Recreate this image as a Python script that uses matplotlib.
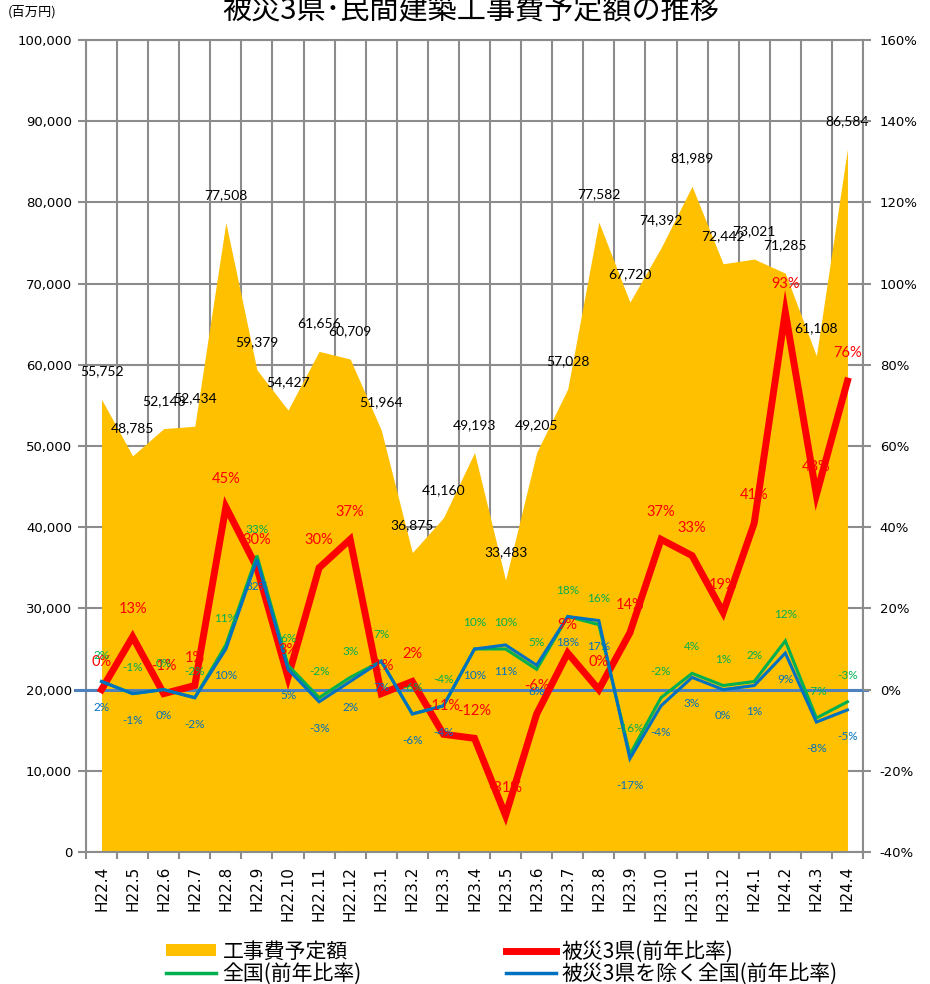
import matplotlib
matplotlib.use('Agg')
import matplotlib.pyplot as plt
import matplotlib.ticker as mticker
from matplotlib.lines import Line2D
from matplotlib.patches import Patch

# ---------------- data ----------------
months = ['H22.4', 'H22.5', 'H22.6', 'H22.7', 'H22.8', 'H22.9', 'H22.10', 'H22.11',
          'H22.12', 'H23.1', 'H23.2', 'H23.3', 'H23.4', 'H23.5', 'H23.6', 'H23.7',
          'H23.8', 'H23.9', 'H23.10', 'H23.11', 'H23.12', 'H24.1', 'H24.2', 'H24.3',
          'H24.4']
amount = [55752, 48785, 52143, 52434, 77508, 59379, 54427, 61656, 60709, 51964,
          36875, 41160, 49193, 33483, 49205, 57028, 77582, 67720, 74392, 81989,
          72442, 73021, 71285, 61108, 86584]
hisai3 = [0, 13, -1, 1, 45, 30, 3, 30, 37, -1, 2, -11, -12, -31, -6, 9, 0, 14,
          37, 33, 19, 41, 93, 48, 76]
zenkoku = [2, -1, 0, -2, 11, 33, 6, -2, 3, 7, -6, -4, 10, 10, 5, 18, 16, -16,
           -2, 4, 1, 2, 12, -7, -3]
excl3 = [2, -1, 0, -2, 10, 32, 5, -3, 2, 7, -6, -4, 10, 11, 6, 18, 17, -17,
         -4, 3, 0, 1, 9, -8, -5]

title = '被災3県･民間建築工事費予定額の推移'
unit_label = '(百万円)'
legend_labels = ['工事費予定額', '全国(前年比率)', '被災3県(前年比率)', '被災3県を除く全国(前年比率)']

# ---------------- style ----------------
CJK = ['Noto Sans CJK JP', 'DejaVu Sans']
ORANGE = '#FFC000'
RED = '#FF0000'
GREEN = '#00B050'
BLUE = '#0070C0'
ZERO = '#4F81BD'
GRID = '#8C8C8C'

fig = plt.figure(figsize=(9.3, 9.84), dpi=100)
ax = fig.add_axes([86 / 930, 1 - 852 / 984, 777 / 930, 812 / 984])

x = list(range(len(months)))

# area
ax.fill_between(x, amount, 0, color=ORANGE, linewidth=0, zorder=2)
ax.set_xlim(-0.5, len(months) - 0.5)
ax.set_ylim(0, 100000)
ax.yaxis.set_major_locator(mticker.MultipleLocator(10000))
ax.yaxis.set_major_formatter(mticker.FuncFormatter(lambda v, p: f'{int(v):,}'))
ax.set_xticks(x)
ax.set_xticklabels(months, rotation=90, fontsize=11, family='DejaVu Sans')
ax.set_xticks([i - 0.5 for i in range(len(months) + 1)], minor=True)
ax.tick_params(axis='x', which='major', length=0, pad=10)
ax.tick_params(axis='x', which='minor', length=5, width=1.5, color=GRID)
ax.tick_params(axis='y', length=6, width=1.5, color=GRID, pad=4, labelsize=9.5)
ax.grid(True, which='minor', axis='x', color=GRID, lw=1.5, zorder=0)
ax.grid(True, which='major', axis='y', color=GRID, lw=1.5, zorder=0)
ax.grid(False, which='major', axis='x')
ax.set_axisbelow(True)
for s in ['left', 'right', 'bottom', 'top']:
    ax.spines[s].set_color(GRID)
    ax.spines[s].set_linewidth(1.5)

for xi, v in zip(x, amount):
    ax.annotate(f'{v:,}', (xi, v), xytext=(0, 20), textcoords='offset points',
                ha='center', va='center', fontsize=10, family='Lato', color='black',
                zorder=3)

# secondary axis
ax2 = ax.twinx()
ax2.set_ylim(-40, 160)
ax2.yaxis.set_major_locator(mticker.MultipleLocator(20))
ax2.yaxis.set_major_formatter(mticker.FuncFormatter(lambda v, p: f'{int(v)}%'))
ax2.tick_params(axis='y', length=6, width=1.5, color=GRID, pad=6, labelsize=9.5)
for s in ['left', 'right', 'bottom', 'top']:
    ax2.spines[s].set_visible(False)

ax2.axhline(0, xmin=-0.014, xmax=1.005, color=ZERO, lw=2.2, clip_on=False, zorder=1)
ax2.plot(x, hisai3, color=RED, lw=5, solid_joinstyle='miter', zorder=2)
ax2.plot(x, zenkoku, color=GREEN, lw=2.2, solid_joinstyle='miter', zorder=3)
ax2.plot(x, excl3, color=BLUE, lw=2.2, solid_joinstyle='miter', zorder=4)

for xi, v in zip(x, hisai3):
    ax2.annotate(f'{v}%', (xi, v), xytext=(0, 20), textcoords='offset points',
                 ha='center', va='center', fontsize=10.5, family='Lato', color=RED, zorder=5)
for xi, v in zip(x, zenkoku):
    ax2.annotate(f'{v}%', (xi, v), xytext=(0, 19), textcoords='offset points',
                 ha='center', va='center', fontsize=8.5, family='Lato', color=GREEN, zorder=5)
for xi, v in zip(x, excl3):
    ax2.annotate(f'{v}%', (xi, v), xytext=(0, -19), textcoords='offset points',
                 ha='center', va='center', fontsize=8.5, family='Lato', color=BLUE, zorder=5)

# titles
fig.text(471 / 930, 1 - 11 / 984, title, ha='center', va='center', fontsize=21, family=CJK)
fig.text(8 / 930, 1 - 12 / 984, unit_label, ha='left', va='center', fontsize=9.5, family=CJK)

# legend
handles = [Patch(facecolor=ORANGE, edgecolor='none'),
           Line2D([], [], color=GREEN, lw=2.5),
           Line2D([], [], color=RED, lw=5),
           Line2D([], [], color=BLUE, lw=2.5)]
fig.legend(handles, legend_labels, ncol=2, loc='upper left',
           bbox_to_anchor=(156 / 930, 1 - 930 / 984), frameon=False,
           prop={'family': CJK, 'size': 15}, handlelength=2.4, handleheight=0.5,
           handletextpad=0.3, columnspacing=6.9, labelspacing=0.0, borderpad=0)

fig.savefig('out.png', dpi=100)
